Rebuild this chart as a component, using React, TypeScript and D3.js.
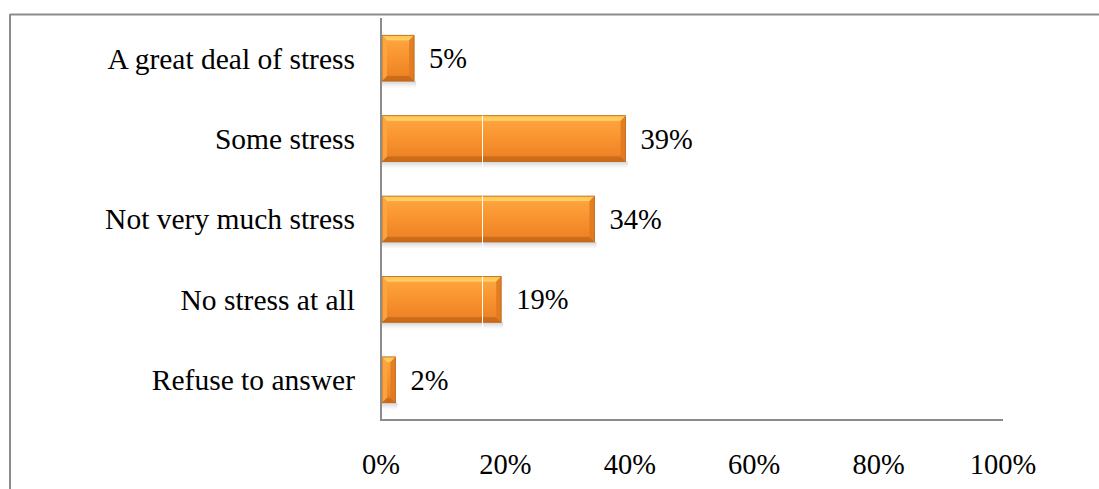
import React from "react";
import * as d3 from "d3";

const categories = ["A great deal of stress", "Some stress", "Not very much stress", "No stress at all", "Refuse to answer"];
const values = [5, 39, 34, 19, 2];
const ticks = [0, 20, 40, 60, 80, 100];

const W = 1099, H = 489;
const FONT = "Liberation Serif, DejaVu Serif, Times New Roman, serif";
const FS = 28.5;

export default function App() {
  const x = d3.scaleLinear().domain([0, 100]).range([381, 1003]);
  const y = d3.scaleBand().domain(categories).range([18, 420]).paddingInner(0.43).paddingOuter(0.215);
  const bh = y.bandwidth();
  const bv = 5;
  const txt = { fontFamily: FONT, fontSize: FS, fill: "#000" } as React.CSSProperties;
  const catTxt = { ...txt, fontSize: 29.5 } as React.CSSProperties;
  return (
    <svg width={W} height={H} style={{ position: "absolute", left: 0, top: 0 }}>
      <defs>
        <linearGradient id="barG" x1="0" y1="0" x2="0" y2="1">
          <stop offset="0" stopColor="#FFB347" />
          <stop offset="0.15" stopColor="#FDA23C" />
          <stop offset="0.5" stopColor="#F8932F" />
          <stop offset="0.85" stopColor="#EE8526" />
          <stop offset="1" stopColor="#D9741C" />
        </linearGradient>
        <linearGradient id="topG" x1="0" y1="0" x2="0" y2="1">
          <stop offset="0" stopColor="#FFC04E" />
          <stop offset="1" stopColor="#FFD468" />
        </linearGradient>
        <linearGradient id="shadowG" x1="0" y1="0" x2="0" y2="1">
          <stop offset="0" stopColor="#999" stopOpacity="0.45" />
          <stop offset="1" stopColor="#bbb" stopOpacity="0" />
        </linearGradient>
      </defs>
      <rect x={0} y={0} width={W} height={H} fill="#fff" />
      <line x1={10} y1={14.5} x2={W} y2={14.5} stroke="#8c8c8c" strokeWidth={2} />
      <line x1={10} y1={14} x2={10} y2={H} stroke="#8c8c8c" strokeWidth={2} />
      {categories.map((c, i) => {
        const x0 = x(0) + 1;
        const x1 = x(values[i]) + 2;
        const y0 = y(c)!;
        const y1 = y0 + bh;
        const w = x1 - x0;
        const b = Math.min(bv, w / 2);
        return (
          <g key={c}>
            <rect x={x0} y={y1} width={w + 2} height={7} fill="url(#shadowG)" />
            <rect x={x0} y={y0} width={w} height={bh} fill="url(#barG)" />
            <polygon points={`${x0},${y0} ${x1},${y0} ${x1 - b},${y0 + bv} ${x0 + b},${y0 + bv}`} fill="url(#topG)" />
            <polygon points={`${x0},${y1} ${x1},${y1} ${x1 - b},${y1 - bv} ${x0 + b},${y1 - bv}`} fill="#C8681A" opacity={0.85} />
            <polygon points={`${x1},${y0} ${x1},${y1} ${x1 - b},${y1 - bv} ${x1 - b},${y0 + bv}`} fill="#E07A20" opacity={0.9} />
            <polygon points={`${x0},${y0} ${x0},${y1} ${x0 + b},${y1 - bv} ${x0 + b},${y0 + bv}`} fill="#FBA640" opacity={0.9} />
            <rect x={x0} y={y0} width={w} height={bh} fill="none" stroke="#B8641C" strokeWidth={0.8} />
            {x1 > 483 && <line x1={482.5} x2={482.5} y1={y0} y2={y1 + 7} stroke="#fff" strokeWidth={1} />}
            <text x={x1 + 15} y={y0 + bh / 2} dy="0.35em" style={txt}>{values[i]}%</text>
            <text x={355} y={y0 + bh / 2} dy="0.35em" textAnchor="end" style={catTxt}>{c}</text>
          </g>
        );
      })}
      <line x1={381} y1={18} x2={381} y2={421} stroke="#8c8c8c" strokeWidth={2} />
      <line x1={380} y1={420} x2={x(100)} y2={420} stroke="#8c8c8c" strokeWidth={2} />
      {ticks.map((t) => (
        <text key={t} x={x(t)} y={474} textAnchor="middle" style={txt}>{t}%</text>
      ))}
    </svg>
  );
}
